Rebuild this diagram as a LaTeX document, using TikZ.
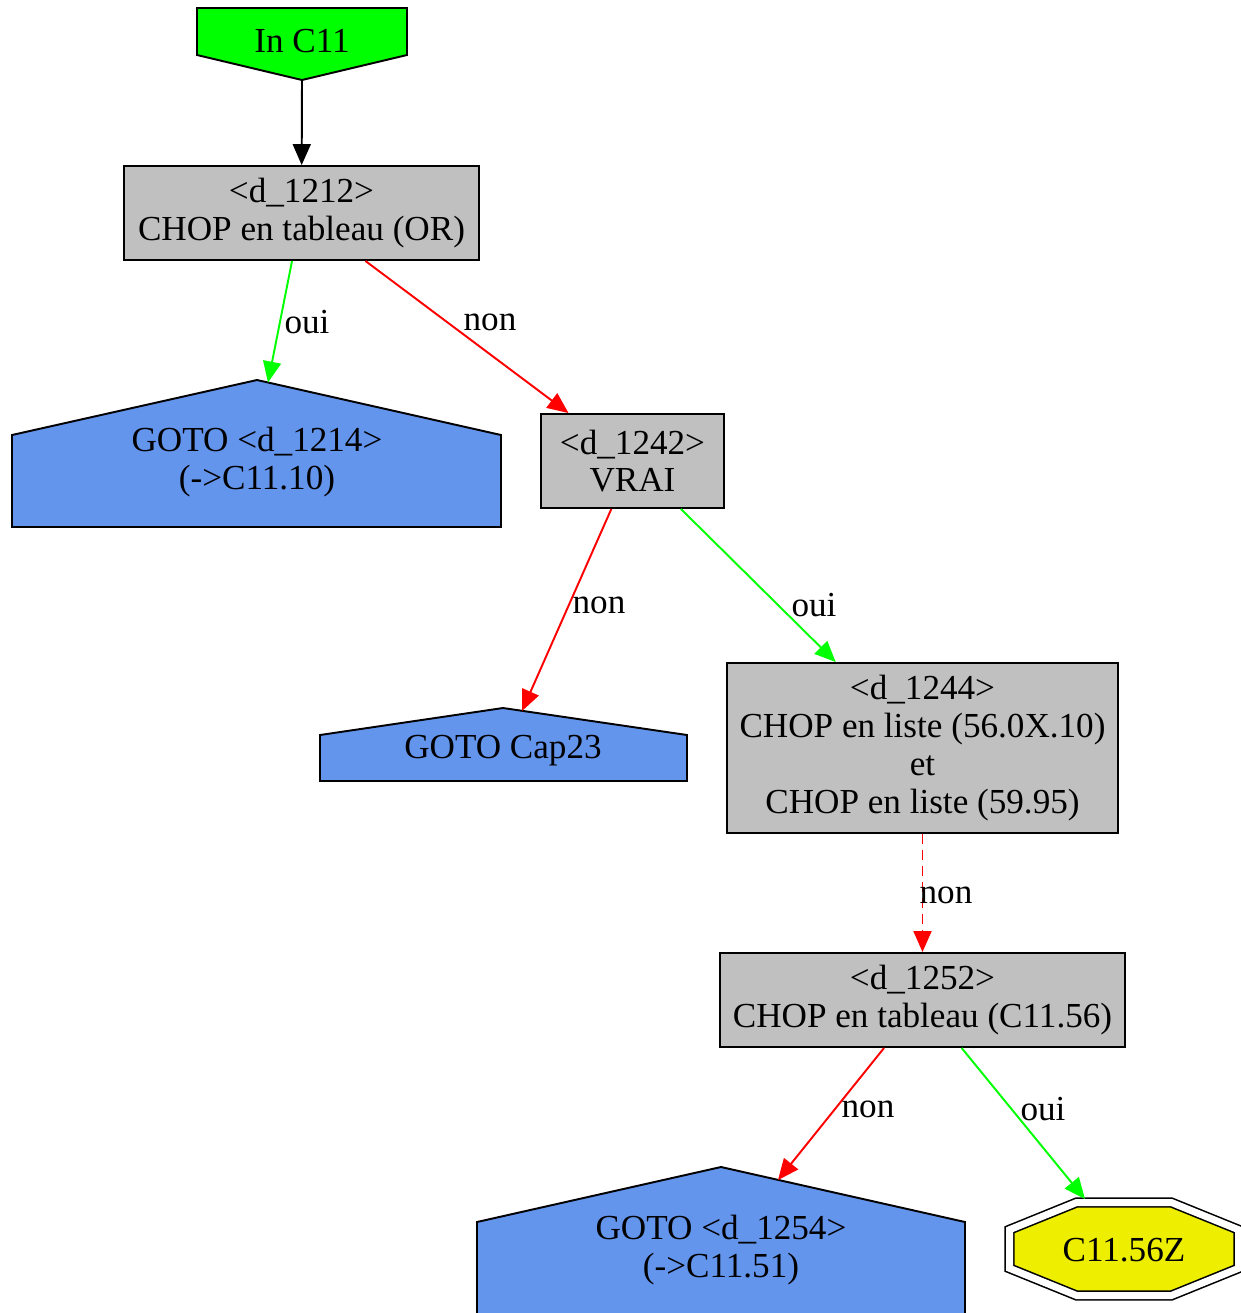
\documentclass[tikz,border=0pt]{standalone}
\usepackage{fontspec}
\setmainfont{Liberation Serif}
\usetikzlibrary{arrows.meta}
\definecolor{BoxGrey}{HTML}{C0C0C0}
\definecolor{GotoBlue}{HTML}{6495ED}
\definecolor{EntryGreen}{HTML}{00FF00}
\definecolor{ExitYellow}{HTML}{EEEE00}
\definecolor{NonRed}{HTML}{FF0000}

\begin{document}
\begin{tikzpicture}[
    x=0.02cm, y=-0.02cm,
    every node/.style={font=\fontsize{20}{21.5}\selectfont, align=center},
    decision/.style={draw=black, fill=BoxGrey, line width=1.1pt, inner sep=0pt},
    gotoshape/.style={draw=black, fill=GotoBlue, line width=1.1pt},
    entryshape/.style={draw=black, fill=EntryGreen, line width=1.1pt},
    exitshape/.style={draw=black, fill=ExitYellow, line width=0.9pt, double=white, double distance=0.14cm},
    lbl/.style={inner sep=1pt},
    flow/.style={-{Triangle[length=4.2mm, width=3.6mm]}, line width=1.1pt, color=black},
    oui/.style={flow, color=EntryGreen},
    non/.style={flow, color=NonRed}
  ]
    \useasboundingbox (0,0) rectangle (1241,1313);

    \draw[entryshape] (197,8) -- (407,8) -- (407,55) -- (302,80) -- (197,55) -- cycle;
    \node (in11) at (302,41) {In C11};
    \coordinate (in11tip) at (302,80);

    \node[decision, minimum width=7.1cm, minimum height=1.88cm] (d1212) at (301.5,213) {<d\_1212>\\CHOP en tableau (OR)};

    \draw[gotoshape] (12,527) -- (12,435) -- (257,380) -- (501,435) -- (501,527) -- cycle;
    \node (g1214) at (257,462) {GOTO <d\_1214>\\(->C11.10)};
    \coordinate (g1214roof) at (268,382.5);

    \node[decision, minimum width=3.66cm, minimum height=1.88cm] (d1242) at (632.5,461) {<d\_1242>\\VRAI};

    \draw[gotoshape] (320,781) -- (320,735) -- (503,708) -- (687,735) -- (687,781) -- cycle;
    \node (cap23) at (503,751) {GOTO Cap23};
    \coordinate (cap23roof) at (522,711);

    \node[decision, minimum width=7.82cm, minimum height=3.4cm] (d1244) at (922.5,748) {<d\_1244>\\CHOP en liste (56.0X.10)\\et\\CHOP en liste (59.95)};

    \node[decision, minimum width=8.1cm, minimum height=1.88cm] (d1252) at (922.5,1000) {<d\_1252>\\CHOP en tableau (C11.56)};

    \draw[gotoshape] (477,1316) -- (477,1222) -- (721,1167) -- (965,1222) -- (965,1316) -- cycle;
    \node (g1254) at (721,1250) {GOTO <d\_1254>\\(->C11.51)};
    \coordinate (g1254roof) at (778,1180);

    \filldraw[exitshape] (1238.5,1229.7) -- (1171.4,1202.5) -- (1076.6,1202.5) -- (1009.5,1229.7)
      -- (1009.5,1268.3) -- (1076.6,1295.5) -- (1171.4,1295.5) -- (1238.5,1268.3) -- cycle;
    \node (c1156z) at (1124,1250) {C11.56Z};
    \coordinate (c1156ztop) at (1085,1199);

    \draw[flow] (in11tip) -- (d1212);
    \draw[oui] (d1212) -- (g1214roof);
    \draw[non] (d1212) -- (d1242);
    \draw[non] (d1242) -- (cap23roof);
    \draw[oui] (d1242) -- (d1244);
    \draw[non, dash pattern=on 0.2cm off 0.12cm] (d1244) -- (d1252);
    \draw[non] (d1252) -- (g1254roof);
    \draw[oui] (d1252) -- (c1156ztop);

    \node[lbl] (oui1) at (307,322) {oui};
    \node[lbl] (non1) at (490,322) {non};
    \node[lbl] (non2) at (599,605) {non};
    \node[lbl] (oui2) at (814,605) {oui};
    \node[lbl] (non3) at (946,895) {non};
    \node[lbl] (non4) at (868,1109) {non};
    \node[lbl] (oui3) at (1043,1109) {oui};
  \end{tikzpicture}
\end{document}
